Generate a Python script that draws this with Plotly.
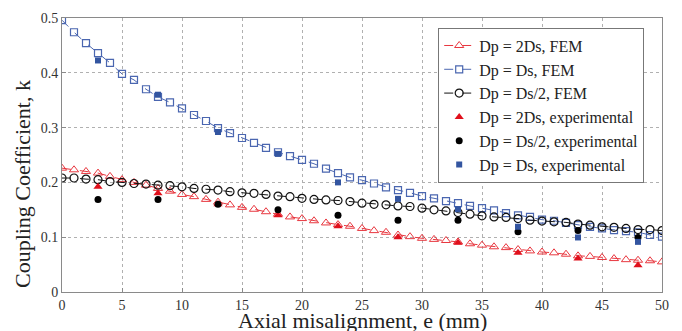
import plotly.graph_objects as go

e_fem = list(range(0, 51))
k_2ds_fem = [0.226, 0.223, 0.220, 0.217, 0.211, 0.205, 0.200, 0.195, 0.189, 0.184,
             0.178, 0.174, 0.169, 0.164, 0.159, 0.1545, 0.151, 0.1465, 0.142, 0.137,
             0.134, 0.130, 0.126, 0.123, 0.120, 0.116, 0.112, 0.109, 0.104, 0.101,
             0.098, 0.096, 0.094, 0.0915, 0.088, 0.0855, 0.0825, 0.081, 0.0775, 0.075,
             0.073, 0.0715, 0.069, 0.066, 0.065, 0.063, 0.061, 0.059, 0.058, 0.057, 0.055]
k_ds_fem = [0.496, 0.474, 0.454, 0.436, 0.418, 0.398, 0.387, 0.370, 0.356, 0.346,
            0.335, 0.323, 0.312, 0.299, 0.290, 0.281, 0.272, 0.263, 0.255, 0.248,
            0.241, 0.234, 0.225, 0.217, 0.209, 0.204, 0.198, 0.191, 0.186, 0.181,
            0.175, 0.171, 0.166, 0.162, 0.157, 0.153, 0.149, 0.144, 0.140, 0.137,
            0.132, 0.130, 0.126, 0.122, 0.119, 0.116, 0.113, 0.111, 0.109, 0.104, 0.101]
k_ds2_fem = [0.208, 0.208, 0.206, 0.205, 0.2015, 0.200, 0.198, 0.197, 0.195, 0.194,
             0.192, 0.189, 0.1875, 0.186, 0.183, 0.181, 0.180, 0.178, 0.175, 0.174,
             0.171, 0.169, 0.168, 0.167, 0.165, 0.162, 0.160, 0.159, 0.157, 0.156,
             0.153, 0.150, 0.148, 0.145, 0.142, 0.139, 0.137, 0.136, 0.134, 0.131,
             0.1295, 0.128, 0.127, 0.124, 0.122, 0.119, 0.118, 0.116, 0.114, 0.114, 0.112]

e_exp = [3, 8, 13, 18, 23, 28, 33, 38, 43, 48]
k_2ds_exp = [0.192, 0.180, 0.160, 0.140, 0.120, 0.100, 0.090, 0.0715, 0.061, 0.049]
k_ds2_exp = [0.169, 0.169, 0.160, 0.150, 0.140, 0.131, 0.131, 0.110, 0.112, 0.0995]
k_ds_exp = [0.4225, 0.360, 0.292, 0.252, 0.200, 0.170, 0.151, 0.119, 0.0995, 0.0915]

x_ticks = list(range(0, 51, 5))
y_ticks = [0, 0.1, 0.2, 0.3, 0.4, 0.5]
y_tick_text = ["0", "0.1", "0.2", "0.3", "0.4", "0.5"]

x_title = "Axial misalignment, e (mm)"
y_title = "Coupling Coefficient, k"

RED = "#e8373f"
BLUE = "#4a66b0"
BLACK = "#111111"
FONT = "Liberation Serif"

fig = go.Figure()
fig.add_trace(go.Scatter(x=e_fem, y=k_2ds_fem, mode="lines+markers", name="Dp = 2Ds, FEM",
                         line=dict(color=RED, width=1, dash="dash"),
                         marker=dict(symbol="triangle-up-open", size=8, color=RED, line=dict(width=1))))
fig.add_trace(go.Scatter(x=e_fem, y=k_ds_fem, mode="lines+markers", name="Dp = Ds, FEM",
                         line=dict(color=BLUE, width=1, dash="dash"),
                         marker=dict(symbol="square-open", size=7, color=BLUE, line=dict(width=1.2))))
fig.add_trace(go.Scatter(x=e_fem, y=k_ds2_fem, mode="lines+markers", name="Dp = Ds/2, FEM",
                         line=dict(color=BLACK, width=1, dash="dash"),
                         marker=dict(symbol="circle-open", size=8, color=BLACK, line=dict(width=1.2))))
fig.add_trace(go.Scatter(x=e_exp, y=k_2ds_exp, mode="markers", name="Dp = 2Ds, experimental",
                         marker=dict(symbol="triangle-up", size=8, color="#e0101c")))
fig.add_trace(go.Scatter(x=e_exp, y=k_ds2_exp, mode="markers", name="Dp = Ds/2, experimental",
                         marker=dict(symbol="circle", size=7, color="#000000")))
fig.add_trace(go.Scatter(x=e_exp, y=k_ds_exp, mode="markers", name="Dp = Ds, experimental",
                         marker=dict(symbol="square", size=6, color="#3355a0")))

axis_common = dict(showline=True, linecolor="#8a8a8a", linewidth=1, mirror=True,
                   showgrid=True, gridcolor="#b0b0b0", griddash="dot", gridwidth=1,
                   zeroline=False, ticks="inside", ticklen=4, tickcolor="#8a8a8a",
                   automargin=False,
                   tickfont=dict(family=FONT, size=14, color="#333333"))

fig.update_layout(
    width=674, height=323,
    margin=dict(l=54, r=20, t=10, b=39),
    paper_bgcolor="white", plot_bgcolor="white",
    font=dict(family=FONT, color="#222222"),
    xaxis=dict(range=[0, 50], tickvals=x_ticks, **axis_common),
    yaxis=dict(range=[0, 0.5], tickvals=y_ticks, ticktext=y_tick_text, **axis_common),
    legend=dict(x=0.627, y=0.965, xanchor="left", yanchor="top",
                bgcolor="white", bordercolor="#777777", borderwidth=1,
                font=dict(family=FONT, size=16, color="#222222"),
                itemwidth=30, tracegroupgap=0),
    showlegend=True,
    annotations=[
        dict(text=x_title, xref="paper", yref="paper", x=0.5, y=-0.104,
             xanchor="center", yanchor="middle", showarrow=False,
             font=dict(family=FONT, size=22, color="#222222")),
        dict(text=y_title, xref="paper", yref="paper", x=-0.0667, y=0.394,
             xanchor="center", yanchor="middle", showarrow=False, textangle=-90,
             font=dict(family=FONT, size=22, color="#222222")),
    ],
)

fig.write_html("out.html")
